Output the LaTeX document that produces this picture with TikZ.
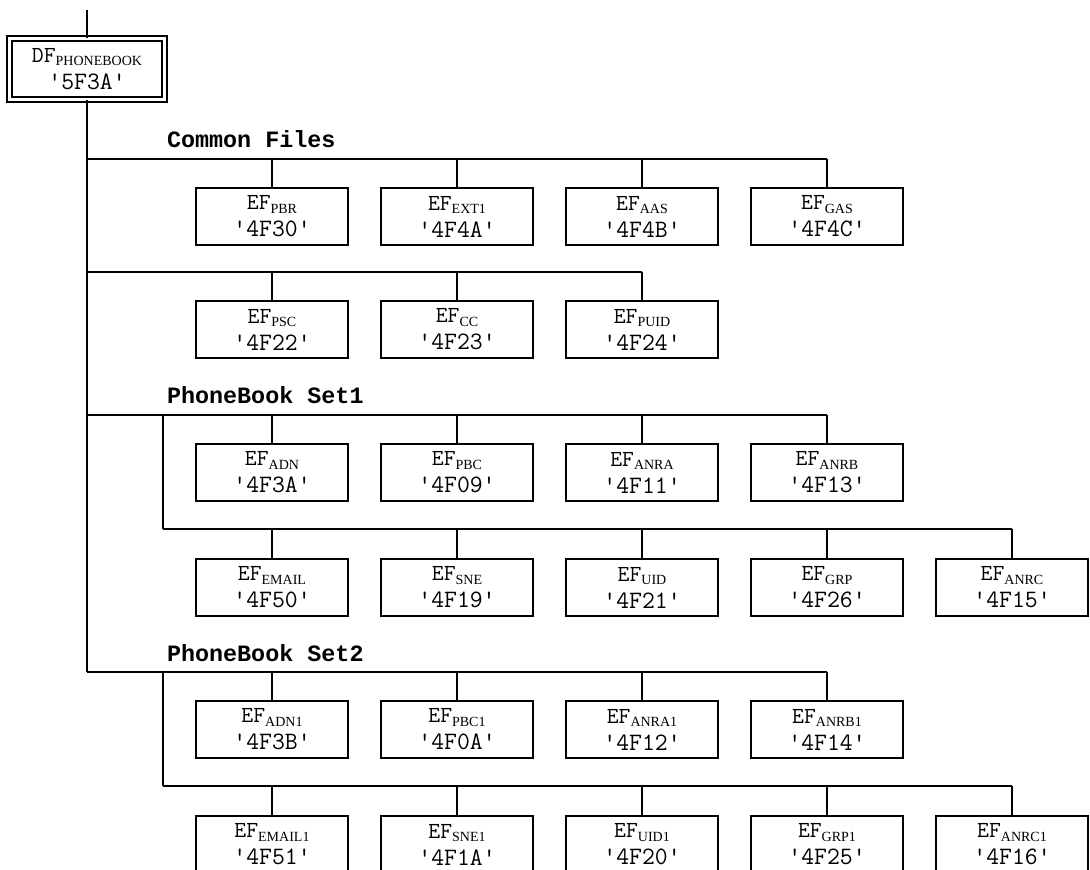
\documentclass[tikz,border=0pt]{standalone}
\usepackage{fontspec}
\setmainfont{Liberation Serif}
\newfontfamily\lblfont{Liberation Mono}
\usetikzlibrary{positioning}
\newcommand{\fname}[3]{{\ttfamily #1}\raisebox{-1.6pt}{\fontsize{7}{7.5}\selectfont #2}\\
  {\ttfamily\fontsize{12.5}{13.5}\selectfont '#3'}}

\begin{document}
\begin{tikzpicture}[x=0.5pt, y=-0.5pt, line width=1pt,
  efbox/.style={draw, line width=1pt, minimum width=76pt, minimum height=28.5pt,
                inner sep=1pt, align=center, font=\fontsize{11.5}{13.5}\selectfont},
  grouplabel/.style={anchor=base west, inner sep=0pt,
                font=\lblfont\bfseries\fontsize{11.7}{14}\selectfont}]
\useasboundingbox (0,0) rectangle (1090,870);

% DF box with double border
\node[draw, double, double distance=1.6pt, line width=0.8pt, minimum width=77.5pt,
      minimum height=30.5pt, inner sep=1pt, align=center,
      font=\fontsize{11.5}{13.5}\selectfont] (df) at (87,69) {\fname{DF}{PHONEBOOK}{5F3A}};
\coordinate (top) at (87,10);
\draw (top) -- (df.north);

% trunk points
\coordinate (cf1) at (87,159);
\coordinate (cf2) at (87,272);
\coordinate (ps1) at (87,415);
\coordinate (ps2) at (87,672);
\coordinate (sa) at (163,415);
\coordinate (sb) at (163,529);
\coordinate (sc) at (163,672);
\coordinate (sd) at (163,786);
\draw (df.south) -- (ps2);
\draw (sa) -- (sb);
\draw (sc) -- (sd);

\node[grouplabel] (lcf) at (166,148) {Common Files};
\node[grouplabel] (lps1) at (166,404) {PhoneBook Set1};
\node[grouplabel] (lps2) at (166,661) {PhoneBook Set2};

% Common Files
\foreach \n/\s/\c [count=\i from 0] in {pbr/PBR/4F30, ext/EXT1/4F4A, aas/AAS/4F4B, gas/GAS/4F4C} {
  \node[efbox] (\n) at (272+185*\i,216.5) {\fname{EF}{\s}{\c}};
  \draw (\n.north) -- (\n.north |- cf1);
}
\draw (cf1) -- (gas.north |- cf1);
\foreach \n/\s/\c [count=\i from 0] in {psc/PSC/4F22, cc/CC/4F23, puid/PUID/4F24} {
  \node[efbox] (\n) at (272+185*\i,329.5) {\fname{EF}{\s}{\c}};
  \draw (\n.north) -- (\n.north |- cf2);
}
\draw (cf2) -- (puid.north |- cf2);

% PhoneBook Set1
\foreach \n/\s/\c [count=\i from 0] in {adn/ADN/4F3A, pbc/PBC/4F09, anra/ANRA/4F11, anrb/ANRB/4F13} {
  \node[efbox] (\n) at (272+185*\i,472.5) {\fname{EF}{\s}{\c}};
  \draw (\n.north) -- (\n.north |- ps1);
}
\draw (ps1) -- (anrb.north |- ps1);
\foreach \n/\s/\c [count=\i from 0] in {email/EMAIL/4F50, sne/SNE/4F19, uid/UID/4F21, grp/GRP/4F26, anrc/ANRC/4F15} {
  \node[efbox] (\n) at (272+185*\i,587.5) {\fname{EF}{\s}{\c}};
  \draw (\n.north) -- (\n.north |- sb);
}
\draw (sb) -- (anrc.north |- sb);

% PhoneBook Set2
\foreach \n/\s/\c [count=\i from 0] in {adni/ADN1/4F3B, pbci/PBC1/4F0A, anrai/ANRA1/4F12, anrbi/ANRB1/4F14} {
  \node[efbox] (\n) at (272+185*\i,729.5) {\fname{EF}{\s}{\c}};
  \draw (\n.north) -- (\n.north |- ps2);
}
\draw (ps2) -- (anrbi.north |- ps2);
\foreach \n/\s/\c [count=\i from 0] in {emaili/EMAIL1/4F51, snei/SNE1/4F1A, uidi/UID1/4F20, grpi/GRP1/4F25, anrci/ANRC1/4F16} {
  \node[efbox] (\n) at (272+185*\i,844.5) {\fname{EF}{\s}{\c}};
  \draw (\n.north) -- (\n.north |- sd);
}
\draw (sd) -- (anrci.north |- sd);
\end{tikzpicture}
\end{document}
